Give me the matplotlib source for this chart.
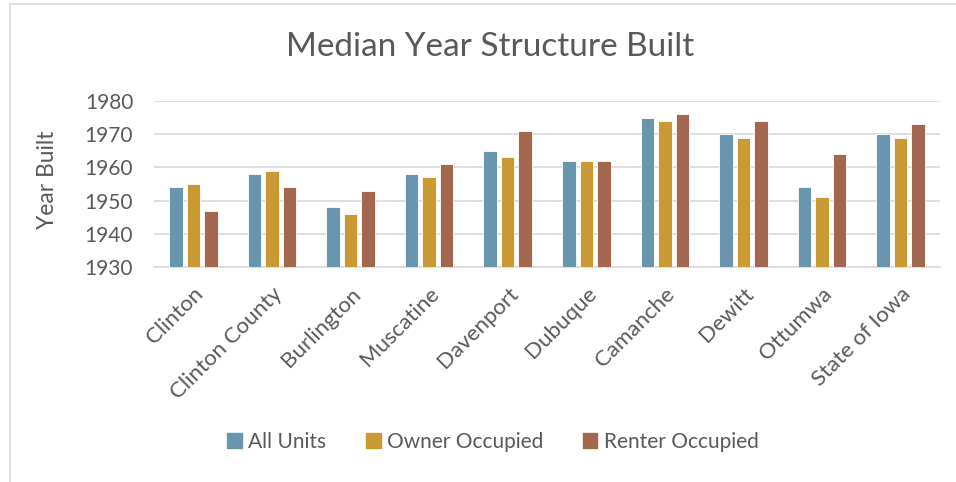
import matplotlib
matplotlib.use("Agg")
import matplotlib.pyplot as plt
import matplotlib.transforms as mtransforms
import numpy as np
from matplotlib.lines import Line2D

places = ["Clinton", "Clinton County", "Burlington", "Muscatine", "Davenport",
          "Dubuque", "Camanche", "Dewitt", "Ottumwa", "State of Iowa"]
all_units = [1954, 1958, 1948, 1958, 1965, 1962, 1975, 1970, 1954, 1970]
owner_occupied = [1955, 1959, 1946, 1957, 1963, 1962, 1974, 1969, 1951, 1969]
renter_occupied = [1947, 1954, 1953, 1961, 1971, 1962, 1976, 1974, 1964, 1973]
series_names = ["All Units", "Owner Occupied", "Renter Occupied"]
y_ticks = [1930, 1940, 1950, 1960, 1970, 1980]

colors = ["#6A95AF", "#C99A33", "#A2674E"]
text_color = "#595959"
base = 1930

plt.rcParams["font.family"] = ["Lato", "DejaVu Sans"]

fig = plt.figure(figsize=(9.56, 4.82), dpi=100)
ax = fig.add_axes([154 / 956, 1 - 267 / 482, 786 / 956, 166 / 482])

x = np.arange(len(places))
width = 0.172
step = 0.223
for i, (vals, name) in enumerate(zip([all_units, owner_occupied, renter_occupied], series_names)):
    heights = np.array(vals) - base
    ax.bar(x + (i - 1) * step, heights, width=width, bottom=base, color=colors[i],
           edgecolor="white", linewidth=0.6, label=name, zorder=3)

ax.set_xlim(-0.5, len(places) - 0.5)
ax.set_ylim(1930, 1980)
ax.set_yticks(y_ticks)
ax.set_yticklabels([str(t) for t in y_ticks], fontsize=15, color=text_color)
ax.set_xticks(x)
ax.set_xticklabels(places, rotation=45, ha="right", va="top", rotation_mode="anchor",
                   fontsize=16, color=text_color)
shift = mtransforms.ScaledTranslation(-3 / 100, 0, fig.dpi_scale_trans)
for lbl in ax.get_xticklabels():
    lbl.set_transform(lbl.get_transform() + shift)
ax.tick_params(axis="x", length=0, pad=12)
ax.tick_params(axis="y", length=0, pad=15)
ax.grid(axis="y", color="#D9D9D9", linewidth=1.2, zorder=0)
for s in ["top", "right", "left"]:
    ax.spines[s].set_visible(False)
ax.spines["bottom"].set_color("#D9D9D9")
ax.spines["bottom"].set_linewidth(1.2)

fig.text(47 / 956, 1 - 180 / 482, "Year Built", rotation=90, ha="center", va="center",
         fontsize=16.5, color=text_color)
fig.text(490 / 956, 1 - 47 / 482, "Median Year Structure Built", ha="center", va="center",
         fontsize=24, color=text_color)

handles = [plt.Rectangle((0, 0), 1, 1, color=c) for c in colors]
fig.legend(handles, series_names, loc="center", bbox_to_anchor=(493 / 956, 1 - 442 / 482),
           ncol=3, frameon=False, fontsize=15, labelcolor=text_color,
           handlelength=0.7, handleheight=0.7, handletextpad=0.3, columnspacing=1.9)

# chart frame edges
fig.add_artist(Line2D([9.5 / 956, 9.5 / 956], [0, 1 - 3.5 / 482], transform=fig.transFigure,
                      color="#D9D9D9", linewidth=1.2))
fig.add_artist(Line2D([9.5 / 956, 1], [1 - 3.5 / 482, 1 - 3.5 / 482], transform=fig.transFigure,
                      color="#D9D9D9", linewidth=1.2))

fig.savefig("out.png", dpi=100, facecolor="white")
